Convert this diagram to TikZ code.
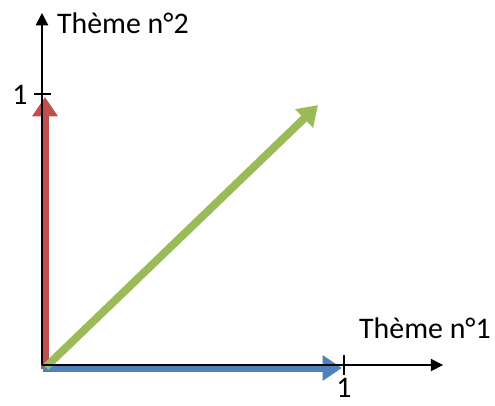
\documentclass[tikz,border=0pt]{standalone}
\usepackage{fontspec}
\setmainfont{Carlito}
\usetikzlibrary{arrows.meta}
\definecolor{rouge}{HTML}{C0504D}
\definecolor{bleu}{HTML}{4F81BD}
\definecolor{vert}{HTML}{9BBB59}
\tikzset{
	axe/.style={line width=0.8pt, -{Triangle[width=7pt,length=7pt]}},
	vecteur/.style={line width=4.5pt, -{Triangle[width=14pt,length=11pt]}},
	lbl/.style={font=\fontsize{17}{20}\selectfont, inner sep=1pt}
}
\begin{document}
\begin{tikzpicture}[x=6.04cm, y=5.42cm]
	\useasboundingbox (-0.139,-0.1476) rectangle (1.5,1.3469);
	\coordinate (O) at (0,0);
	\coordinate (xmax) at (1.328,0);
	\coordinate (ymax) at (0,1.299);
	\coordinate (Ob) at (0.004,-0.011);
	\coordinate (Or) at (0.01,-0.015);
	\coordinate (Ov) at (0.012,-0.008);
	\coordinate (ex) at (0.993,-0.011);
	\coordinate (ey) at (0.01,0.989);
	\coordinate (ez) at (0.914,0.959);

	% vecteurs
	\draw[vecteur, rouge] (Or) -- (ey);
	\draw[vecteur, bleu] (Ob) -- (ex);
	\draw[vecteur, vert] (Ov) -- (ez);

	% axes
	\draw[axe] (O) -- (xmax);
	\draw[axe] (O) -- (ymax);
	\node[lbl] (t1) at (1.268,0.137) {Thème n°1};
	\node[lbl, anchor=west] (t2) at (0.043,1.262) {Thème n°2};

	% graduations
	\coordinate (gx) at (1,0);
	\coordinate (gy) at (0,1);
	\draw[line width=0.8pt] ([yshift=-0.2cm]gx) -- ([yshift=0.2cm]gx);
	\draw[line width=0.8pt] ([xshift=-0.16cm]gy) -- ([xshift=0.18cm]gy);
	\node[lbl] (u1) at (1,-0.086) {1};
	\node[lbl] (u2) at (-0.073,0.996) {1};
\end{tikzpicture}
\end{document}
